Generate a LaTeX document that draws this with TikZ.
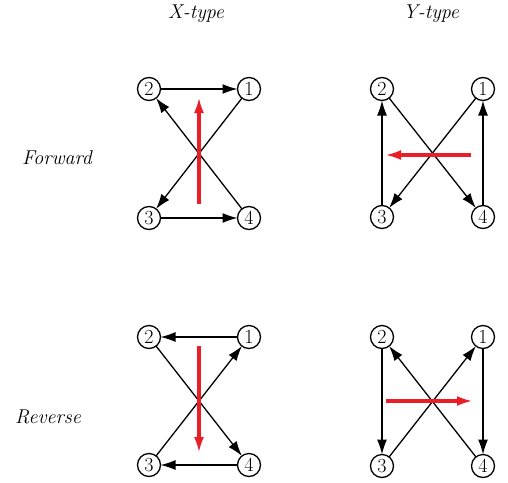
\documentclass[tikz,border=0pt]{standalone}
\usepackage{fontspec}
\usetikzlibrary{arrows.meta}

\definecolor{flowred}{RGB}{235,30,40}

\begin{document}
\begin{tikzpicture}[x=1pt,y=-1pt, line width=1.3pt]
\tikzset{ >={Latex[length=15pt,width=10pt]},
  st/.style={draw, circle, minimum size=23pt, inner sep=0pt, outer sep=0pt,
    font=\fontsize{20}{20}\selectfont},
  lbl/.style={font=\fontsize{20}{24}\selectfont\itshape},
  flow/.style={->, flowred, line width=3.5pt, >={Latex[length=16pt,width=10pt]}},
}

\useasboundingbox (0,0) rectangle (508,482);

%\draw [lightgray, dashed](0,0) grid [step=20] (508,482);

\node [lbl] (tx) at (196,14) {X-type};
\node [lbl] (ty) at (431,14) {Y-type};
\node [lbl] (fw) at (57,158) {Forward};
\node [lbl] (rv) at (48,417) {Reverse};

% forward, X-type
\node [st] (xf2) at (149, 89) {2};
\node [st] (xf1) at (249, 89) {1};
\node [st] (xf3) at (149,218) {3};
\node [st] (xf4) at (249,218) {4};

\draw [->] (xf2)--(xf1);
\draw [->] (xf3)--(xf4);
\draw [->] (xf1)--(xf3);
\draw [->] (xf4)--(xf2);

\coordinate (xfa) at (199,204);
\coordinate (xfb) at (199, 97);
\draw [flow] (xfa)--(xfb);

% forward, Y-type
\node [st] (yf2) at (382, 89) {2};
\node [st] (yf1) at (483, 89) {1};
\node [st] (yf3) at (382,217) {3};
\node [st] (yf4) at (483,217) {4};

\draw [->] (yf3)--(yf2);
\draw [->] (yf4)--(yf1);
\draw [->] (yf1)--(yf3);
\draw [->] (yf2)--(yf4);

\coordinate (yfa) at (471,155);
\coordinate (yfb) at (385,155);
\draw [flow] (yfa)--(yfb);

% reverse, X-type
\node [st] (xr2) at (149,337) {2};
\node [st] (xr1) at (249,337) {1};
\node [st] (xr3) at (149,465) {3};
\node [st] (xr4) at (249,465) {4};

\draw [->] (xr1)--(xr2);
\draw [->] (xr4)--(xr3);
\draw [->] (xr3)--(xr1);
\draw [->] (xr2)--(xr4);

\coordinate (xra) at (199,346);
\coordinate (xrb) at (199,453);
\draw [flow] (xra)--(xrb);

% reverse, Y-type
\node [st] (yr2) at (382,337) {2};
\node [st] (yr1) at (483,337) {1};
\node [st] (yr3) at (382,466) {3};
\node [st] (yr4) at (483,466) {4};

\draw [->] (yr2)--(yr3);
\draw [->] (yr1)--(yr4);
\draw [->] (yr3)--(yr1);
\draw [->] (yr4)--(yr2);

\coordinate (yra) at (386,401);
\coordinate (yrb) at (473,401);
\draw [flow] (yra)--(yrb);

\end{tikzpicture}
\end{document}
